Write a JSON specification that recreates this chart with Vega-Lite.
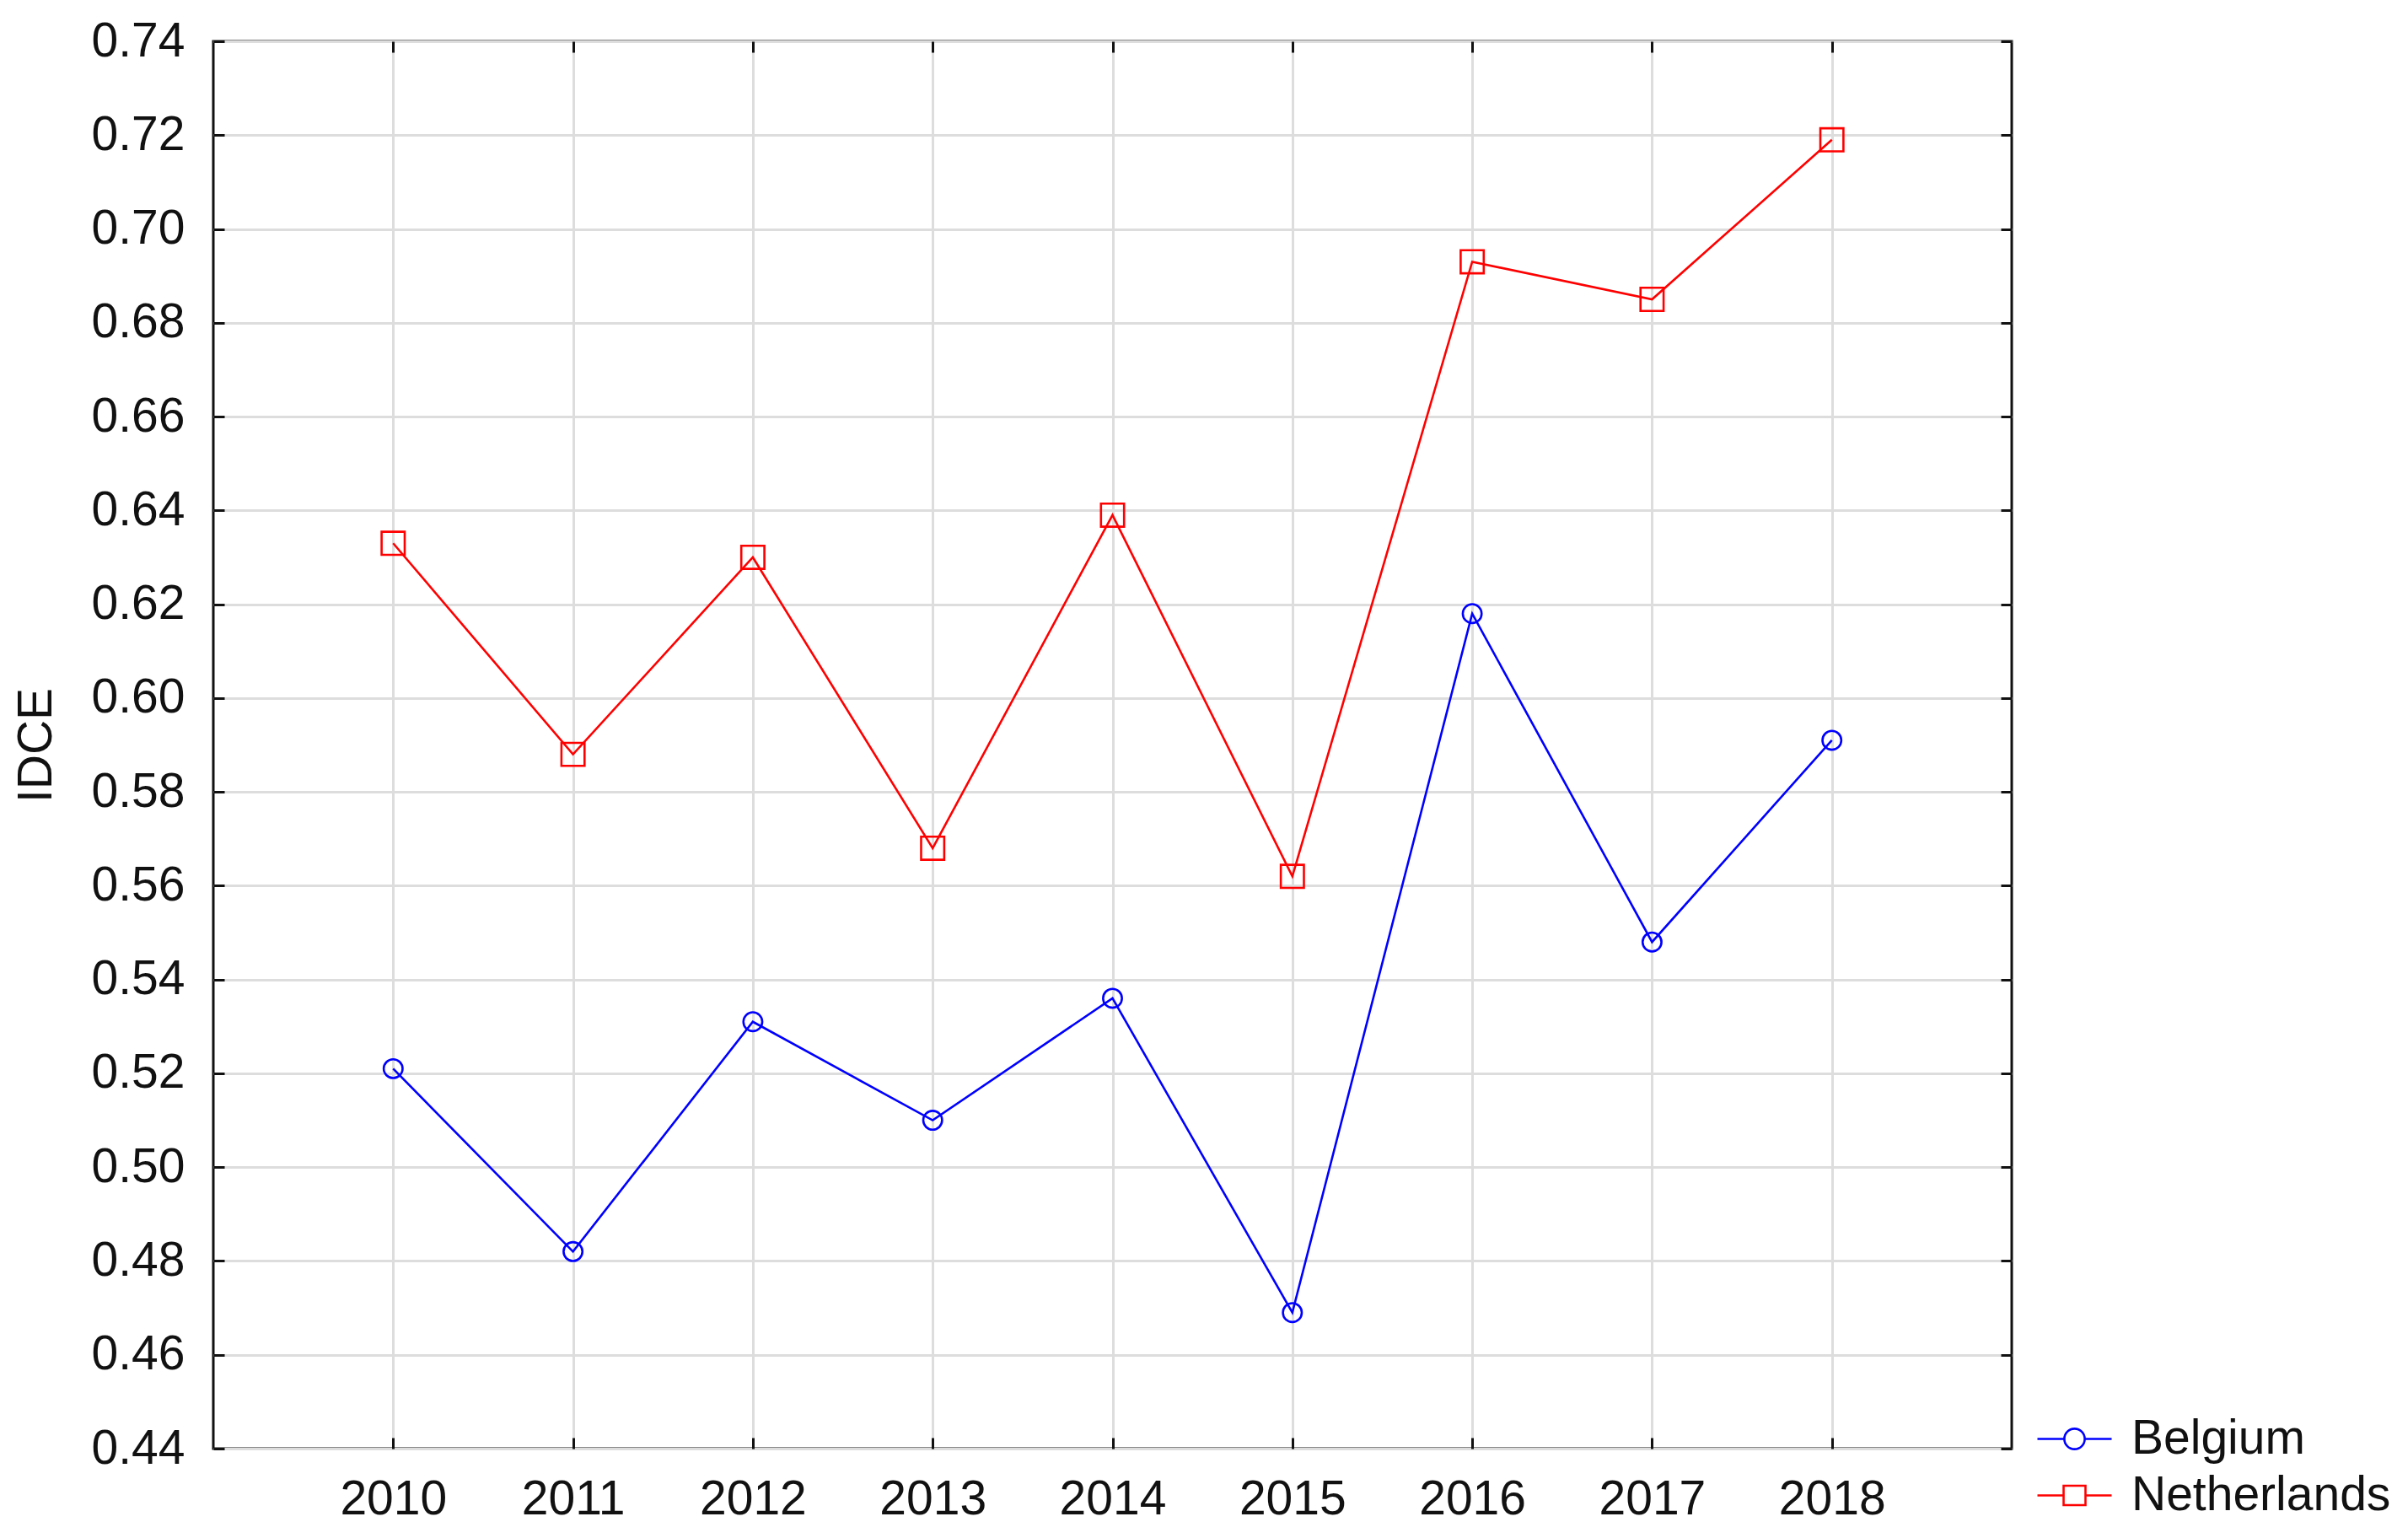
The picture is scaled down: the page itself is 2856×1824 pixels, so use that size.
{
  "$schema": "https://vega.github.io/schema/vega-lite/v6.json",
  "autosize": {"type": "none"},
  "padding": {"left": 253, "top": 49, "right": 470, "bottom": 106},
  "width": 2133,
  "height": 1669,
  "background": "white",
  "config": {
    "view": {"stroke": "#111111", "strokeWidth": 3},
    "font": "Liberation Sans",
    "axis": {
      "labelFont": "Liberation Sans",
      "labelFontSize": 57,
      "labelColor": "#111111",
      "titleFont": "Liberation Sans",
      "titleFontSize": 57,
      "titleFontWeight": "normal",
      "titleColor": "#111111",
      "domain": false,
      "tickColor": "#111111",
      "tickWidth": 3,
      "gridColor": "#dddddd",
      "gridWidth": 3,
      "gridOpacity": 1
    }
  },
  "data": {
    "values": [
      {"year": 2010, "country": "Belgium", "IDCE": 0.521},
      {"year": 2011, "country": "Belgium", "IDCE": 0.482},
      {"year": 2012, "country": "Belgium", "IDCE": 0.531},
      {"year": 2013, "country": "Belgium", "IDCE": 0.510},
      {"year": 2014, "country": "Belgium", "IDCE": 0.536},
      {"year": 2015, "country": "Belgium", "IDCE": 0.469},
      {"year": 2016, "country": "Belgium", "IDCE": 0.618},
      {"year": 2017, "country": "Belgium", "IDCE": 0.548},
      {"year": 2018, "country": "Belgium", "IDCE": 0.591},
      {"year": 2010, "country": "Netherlands", "IDCE": 0.633},
      {"year": 2011, "country": "Netherlands", "IDCE": 0.588},
      {"year": 2012, "country": "Netherlands", "IDCE": 0.630},
      {"year": 2013, "country": "Netherlands", "IDCE": 0.568},
      {"year": 2014, "country": "Netherlands", "IDCE": 0.639},
      {"year": 2015, "country": "Netherlands", "IDCE": 0.562},
      {"year": 2016, "country": "Netherlands", "IDCE": 0.693},
      {"year": 2017, "country": "Netherlands", "IDCE": 0.685},
      {"year": 2018, "country": "Netherlands", "IDCE": 0.719}
    ]
  },
  "layer": [
    {
      "mark": {"type": "line", "strokeWidth": 2.6},
      "encoding": {
        "x": {
          "field": "year", "type": "quantitative",
          "scale": {"domain": [2009, 2019], "nice": false, "zero": false},
          "axis": {"orient": "bottom", "values": [2010, 2011, 2012, 2013, 2014, 2015, 2016, 2017, 2018], "format": "d", "title": null, "grid": true, "tickSize": 13, "offset": -13, "labelPadding": 32}
        },
        "y": {
          "field": "IDCE", "type": "quantitative",
          "scale": {"domain": [0.44, 0.74], "nice": false, "zero": false},
          "axis": {"orient": "left", "values": [0.44, 0.46, 0.48, 0.5, 0.52, 0.54, 0.56, 0.58, 0.6, 0.62, 0.64, 0.66, 0.68, 0.7, 0.72, 0.74], "format": ".2f", "title": "IDCE", "titlePadding": 36, "grid": true, "tickSize": 13, "offset": -13, "labelPadding": 34}
        },
        "color": {
          "field": "country", "type": "nominal",
          "scale": {"domain": ["Belgium", "Netherlands"], "range": ["#0000ff", "#ff0000"]},
          "legend": {
            "orient": "none",
            "legendX": 2179,
            "legendY": 1629,
            "title": null,
            "padding": 0,
            "labelFont": "Liberation Sans",
            "labelFontSize": 57,
            "labelColor": "#111111",
            "labelLimit": 600,
            "labelOffset": 39,
            "symbolSize": 1936,
            "symbolStrokeWidth": 2.6,
            "symbolFillColor": "transparent",
            "rowPadding": 9,
            "encode": {
              "symbols": {
                "update": {
                  "shape": {"signal": "datum.value === 'Belgium' ? 'M-2,0L-0.55,0M0.55,0L2,0M-0.55,0A0.55,0.55,0,1,0,0.55,0A0.55,0.55,0,1,0,-0.55,0Z' : 'M-2,0L-0.59,0M0.59,0L2,0M-0.59,-0.52L0.59,-0.52L0.59,0.52L-0.59,0.52Z'"},
                  "fill": {"value": "transparent"},
                  "strokeWidth": {"value": 2.6}
                }
              }
            }
          }
        }
      }
    },
    {
      "transform": [{"filter": "datum.country === 'Belgium'"}],
      "mark": {"type": "point", "shape": "circle", "size": 500, "filled": false, "strokeWidth": 2.6, "opacity": 1},
      "encoding": {
        "x": {
          "field": "year", "type": "quantitative",
          "axis": {"orient": "top", "values": [2010, 2011, 2012, 2013, 2014, 2015, 2016, 2017, 2018], "labels": false, "title": null, "grid": false, "tickSize": 13, "offset": -13}
        },
        "y": {
          "field": "IDCE", "type": "quantitative",
          "axis": {"orient": "right", "values": [0.44, 0.46, 0.48, 0.5, 0.52, 0.54, 0.56, 0.58, 0.6, 0.62, 0.64, 0.66, 0.68, 0.7, 0.72, 0.74], "labels": false, "title": null, "grid": false, "tickSize": 13, "offset": -13}
        },
        "color": {"field": "country", "type": "nominal", "legend": null}
      }
    },
    {
      "transform": [{"filter": "datum.country === 'Netherlands'"}],
      "mark": {"type": "point", "shape": "square", "size": 750, "filled": false, "strokeWidth": 2.6, "opacity": 1},
      "encoding": {
        "x": {"field": "year", "type": "quantitative", "axis": null},
        "y": {"field": "IDCE", "type": "quantitative", "axis": null},
        "color": {"field": "country", "type": "nominal", "legend": null}
      }
    }
  ]
}
